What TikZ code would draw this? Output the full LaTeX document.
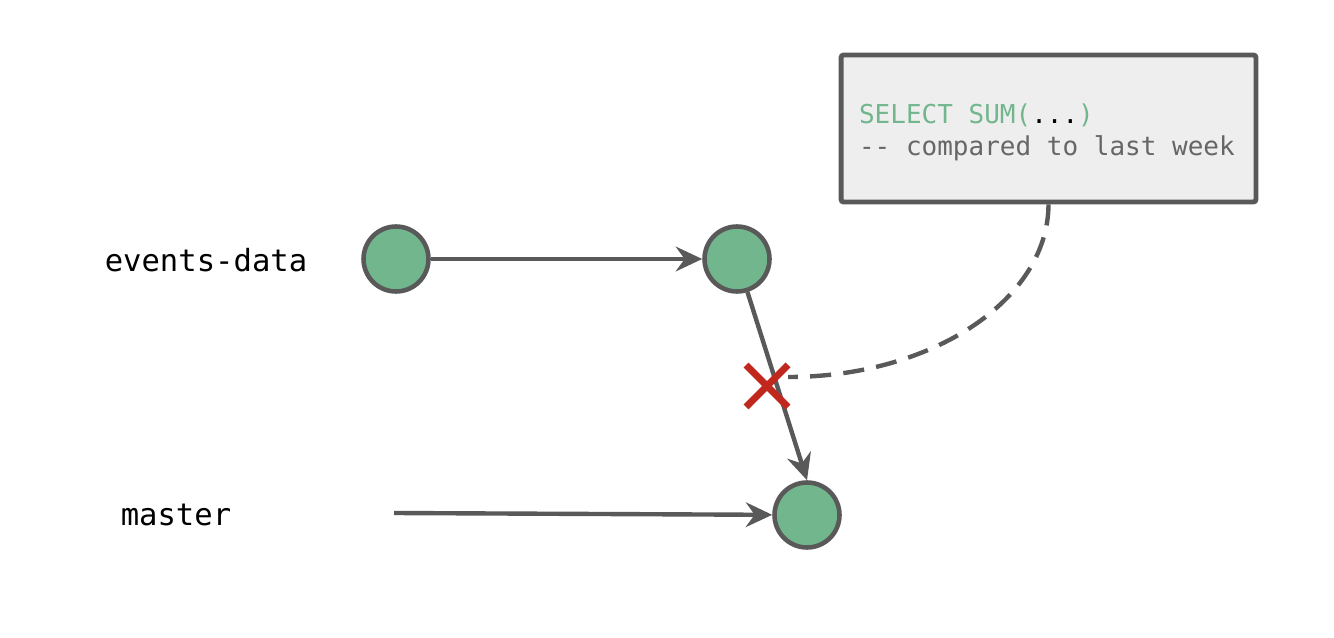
\documentclass[tikz,border=0pt]{standalone}
\usepackage{fontspec}
\setmonofont{DejaVu Sans Mono}
\usetikzlibrary{arrows.meta,positioning,calc}

\definecolor{commitgreen}{HTML}{72B68E}
\definecolor{linegray}{HTML}{595959}
\definecolor{boxgray}{HTML}{EEEEEE}
\definecolor{textgray}{HTML}{666666}
\definecolor{crossred}{HTML}{C0271D}

\begin{document}
\begin{tikzpicture}[x=0.02cm, y=-0.02cm,
    commit/.style={circle, draw=linegray, fill=commitgreen, line width=2.6pt, minimum size=1.3cm, inner sep=0pt},
    branch/.style={font=\ttfamily\fontsize{17.4pt}{20pt}\selectfont},
    link/.style={draw=linegray, line width=2.5pt, -{Stealth[length=15pt,width=14pt,inset=5pt]}},
    querybox/.style={draw=linegray, fill=boxgray, line width=2.8pt, rounded corners=1.5pt,
      minimum width=8.3cm, minimum height=2.94cm, inner xsep=0.36cm, text width=7.58cm, align=left,
      font=\ttfamily\fontsize{14.8pt}{18.1pt}\selectfont, text=textgray}]
    \useasboundingbox (0,0) rectangle (1334,638);

    % Branch labels
    \node[branch] (events) at (206,260) {events-data};
    \node[branch] (master) at (176,515) {master};

    % Commits
    \node[commit] (A) at (396,259) {};
    \node[commit] (B) at (737,259) {};
    \node[commit] (C) at (807,515) {};
    \coordinate (mstart) at (394,513);

    % Edges
    \draw[link] (A) -- (B);
    \draw[link] (B) -- (C.north);
    \draw[link] (mstart) -- (C);

    % Query note
    \node[querybox] (query) at (1048.5,128.5)
      {\spaceskip=0pt\xspaceskip=0pt\rule{0pt}{15.7pt}%
       \textcolor{commitgreen}{SELECT SUM(}\textcolor{black}{...}\textcolor{commitgreen}{)}\\
       -- compared to last week};

    % Cut mark and dashed link to the note
    \coordinate (cut) at (767,386);
    \coordinate (note) at (788,377);
    \draw[linegray, line width=2.5pt, dash pattern=on 12pt off 7pt]
      (query.south) .. controls (1048,300) and (932,377) .. (note);
    \draw[crossred, line width=4pt] ($(cut)+(-21,-21)$) -- ($(cut)+(21,21)$)
      ($(cut)+(-21,21)$) -- ($(cut)+(21,-21)$);
\end{tikzpicture}
\end{document}
